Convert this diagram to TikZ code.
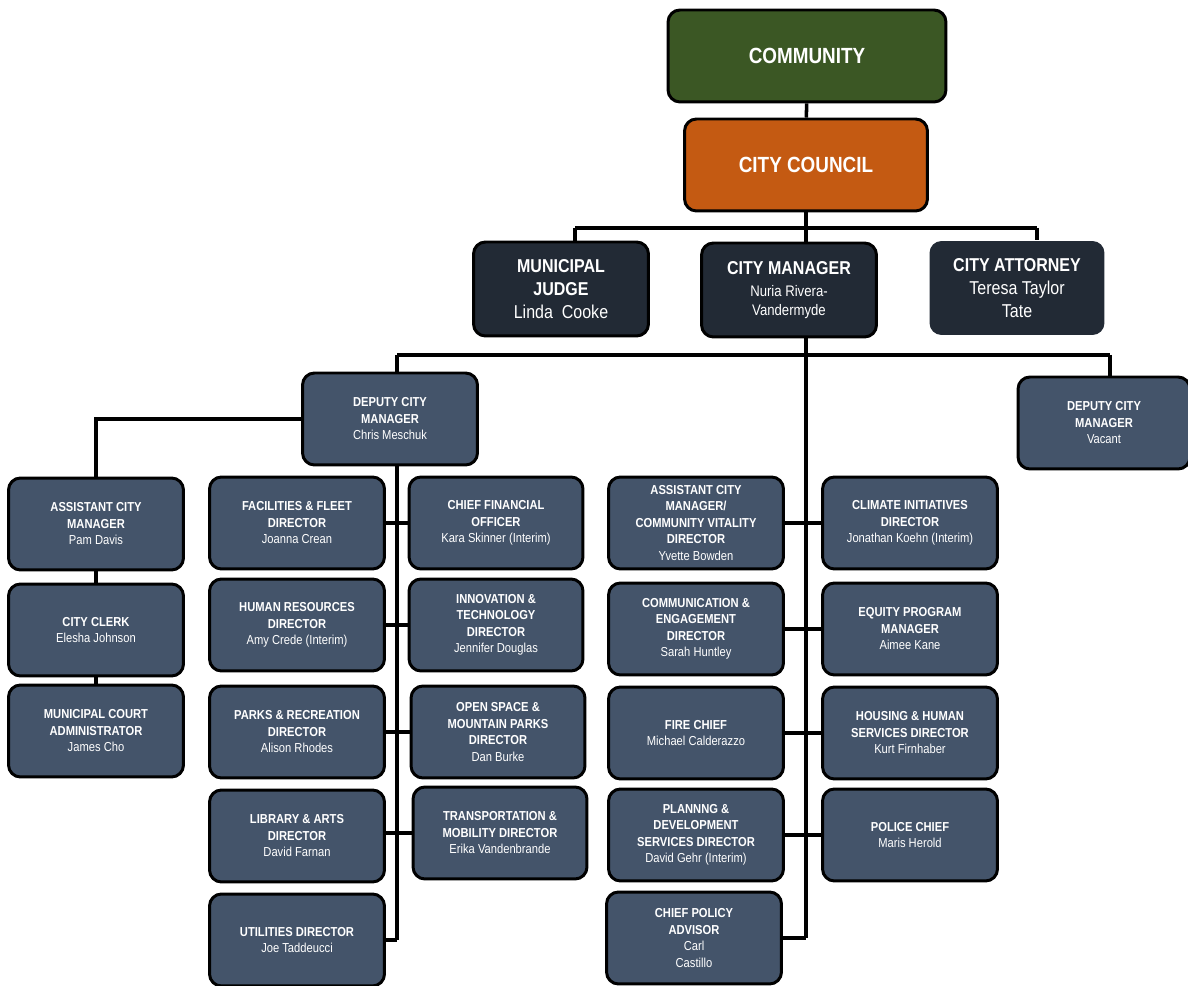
\documentclass[tikz,border=0pt]{standalone}
\usepackage{fontspec}
\setmainfont{Liberation Sans}[FakeStretch=0.86]
\usetikzlibrary{backgrounds}

\definecolor{commgreen}{HTML}{3B5724}
\definecolor{councilorange}{HTML}{C45A12}
\definecolor{darkslate}{HTML}{222A35}
\definecolor{slate}{HTML}{44546A}

\begin{document}
\begin{tikzpicture}[
    x=0.02cm, y=-0.02cm,
    box/.style={draw=black, line width=1.7pt, rounded corners=0.24cm, text=white, align=center},
    topbox/.style={box, minimum height=1.84cm, font={\fontsize{12.5}{15}\selectfont\bfseries}},
    midbox/.style={box, fill=darkslate, minimum width=3.5cm, minimum height=1.88cm, font={\fontsize{10.6}{13}\selectfont\bfseries}},
    unit/.style={box, fill=slate, minimum width=3.5cm, minimum height=1.84cm, font={\fontsize{7.4}{9.4}\selectfont\bfseries}},
    link/.style={draw=black, line width=2pt}
]
\useasboundingbox (0,0) rectangle (1188,986);

% top of the chart
\node[topbox, fill=commgreen, minimum width=5.56cm] (comm) at (807,56) {COMMUNITY};
\node[topbox, fill=councilorange, minimum width=4.86cm] (council) at (806,165) {CITY COUNCIL};

\node[midbox] (judge) at (561,289) {MUNICIPAL\\JUDGE\\\mdseries Linda\ \ Cooke};
\node[midbox, font={\fontsize{8.7}{11}\selectfont}] (mgr) at (789,290) {{\fontsize{10.6}{13}\selectfont\bfseries CITY MANAGER}\\[1.5pt]Nuria Rivera-\\Vandermyde};
\node[midbox, draw=none] (atty) at (1017,288) {CITY ATTORNEY\\\mdseries Teresa Taylor\\\mdseries Tate};

% deputies
\node[unit] (dep1) at (390,419) {DEPUTY CITY\\MANAGER\\\mdseries Chris Meschuk};
\node[unit, minimum width=3.44cm] (dep2) at (1104,423) {DEPUTY CITY\\MANAGER\\\mdseries Vacant};

% left column
\node[unit] (acm) at (96,524) {ASSISTANT CITY\\MANAGER\\\mdseries Pam Davis};
\node[unit] (clerk) at (96,630) {CITY CLERK\\\mdseries Elesha Johnson};
\node[unit] (court) at (96,731) {MUNICIPAL COURT\\ADMINISTRATOR\\\mdseries James Cho};

% under deputy city manager
\node[unit] (fac) at (297,523) {FACILITIES \& FLEET\\DIRECTOR\\\mdseries Joanna Crean};
\node[unit] (hr) at (297,625) {HUMAN RESOURCES\\DIRECTOR\\\mdseries Amy Crede (Interim)};
\node[unit] (parks) at (297,732) {PARKS \& RECREATION\\DIRECTOR\\\mdseries Alison Rhodes};
\node[unit] (lib) at (297,836) {LIBRARY \& ARTS\\DIRECTOR\\\mdseries David Farnan};
\node[unit] (util) at (297,940) {UTILITIES DIRECTOR\\\mdseries Joe Taddeucci};
\node[unit, minimum width=3.48cm] (cfo) at (496,523) {CHIEF FINANCIAL\\OFFICER\\\mdseries Kara Skinner (Interim)};
\node[unit, minimum width=3.48cm] (inno) at (496,625) {INNOVATION \&\\TECHNOLOGY\\DIRECTOR\\\mdseries Jennifer Douglas};
\node[unit, minimum width=3.48cm] (open) at (498,732) {OPEN SPACE \&\\MOUNTAIN PARKS\\DIRECTOR\\\mdseries Dan Burke};
\node[unit, minimum width=3.48cm] (trans) at (500,833) {TRANSPORTATION \&\\MOBILITY DIRECTOR\\\mdseries Erika Vandenbrande};

% under city manager
\node[unit] (acmcv) at (696,523) {ASSISTANT CITY\\MANAGER/\\COMMUNITY VITALITY\\DIRECTOR\\\mdseries Yvette Bowden};
\node[unit] (comms) at (696,629) {COMMUNICATION \&\\ENGAGEMENT\\DIRECTOR\\\mdseries Sarah Huntley};
\node[unit] (fire) at (696,733) {FIRE CHIEF\\\mdseries Michael Calderazzo};
\node[unit] (plan) at (696,835) {PLANNNG \&\\DEVELOPMENT\\SERVICES DIRECTOR\\\mdseries David Gehr (Interim)};
\node[unit] (policy) at (694,938) {CHIEF POLICY\\ADVISOR\\\mdseries Carl\\\mdseries Castillo};
\node[unit] (climate) at (910,523) {CLIMATE INITIATIVES\\DIRECTOR\\\mdseries Jonathan Koehn (Interim)};
\node[unit] (equity) at (910,629) {EQUITY PROGRAM\\MANAGER\\\mdseries Aimee Kane};
\node[unit] (housing) at (910,733) {HOUSING \& HUMAN\\SERVICES DIRECTOR\\\mdseries Kurt Firnhaber};
\node[unit] (police) at (910,835) {POLICE CHIEF\\\mdseries Maris Herold};

% junctions
\coordinate (jTop) at (575,228);
\coordinate (aTop) at (1037,228);
\coordinate (cmEnd) at (806,938);
\coordinate (d1Top) at (397,355);
\coordinate (d2Top) at (1110,355);
\coordinate (d1End) at (397,940);

\begin{scope}[on background layer]
\draw[link] (comm) -- (council);
\draw[link] (council.south) -- (cmEnd);
\draw[link] (jTop) -- (aTop);
\draw[link] (jTop) -- (jTop |- judge.north);
\draw[link] (aTop) -- (aTop |- atty.north);
\draw[link] (d1Top) -- (d2Top);
\draw[link] (d1Top) -- (d1Top |- dep1.north);
\draw[link] (d2Top) -- (d2Top |- dep2.north);
\draw[link] (dep1.west) -| (acm.north);
\draw[link] (acm) -- (clerk);
\draw[link] (clerk) -- (court);
\draw[link] (d1Top |- dep1.south) -- (d1End);
\draw[link] (fac.east) -- (fac.east -| cfo.west);
\draw[link] (hr.east) -- (hr.east -| inno.west);
\draw[link] (parks.east) -- (parks.east -| open.west);
\draw[link] (trans.west -| lib.east) -- (trans.west);
\draw[link] (util.east) -- (d1End);
\draw[link] (acmcv.east) -- (acmcv.east -| climate.west);
\draw[link] (comms.east) -- (comms.east -| equity.west);
\draw[link] (fire.east) -- (fire.east -| housing.west);
\draw[link] (plan.east) -- (plan.east -| police.west);
\draw[link] (policy.east) -- (cmEnd);
\end{scope}

\end{tikzpicture}
\end{document}
